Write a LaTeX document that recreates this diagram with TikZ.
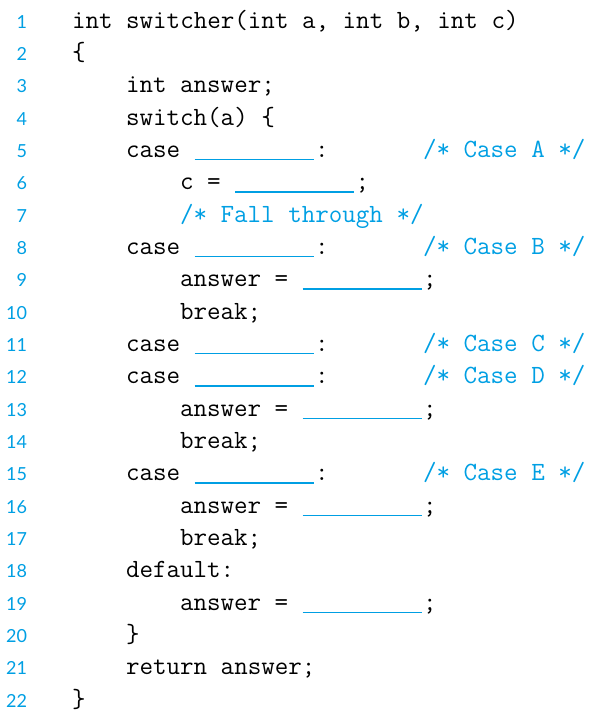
\documentclass[tikz,border=0pt]{standalone}
\usepackage{fontspec}
\setsansfont{Lato}
\definecolor{cblue}{RGB}{0,159,227}
\newcommand\cx[1]{72pt+#1*13.5pt}
\newcommand\cy[1]{692.7pt-(#1-1)*32.33pt}
\tikzset{
  code/.style={inner sep=0pt, outer sep=0pt, anchor=base west, font=\fontsize{26.28}{30}\selectfont\ttfamily, text=black},
  cmt/.style={code, text=cblue},
  num/.style={inner sep=0pt, outer sep=0pt, anchor=base east, font=\fontsize{18}{22}\selectfont\sffamily, text=cblue},
  blankline/.style={draw=cblue, line width=1.4pt}
}
\newcommand\blankat[3]{\draw[blankline] ({\cx{#1}+1pt},{\cy{#2}-2pt}) coordinate (#3a) -- ++(119pt,0) coordinate (#3b);}
\newcommand\caseline[3]{%
  \node[code] (c#1) at ({\cx{4}},{\cy{#1}}) {case};
  \blankat{9}{#1}{b#1}
  \node[code] (k#1) at ({\cx{18}},{\cy{#1}}) {:};
  \node[cmt] (m#1) at ({\cx{26}},{\cy{#1}}) {/* Case #2 */};}
\newcommand\answerline[1]{%
  \node[code] (a#1) at ({\cx{8}},{\cy{#1}}) {answer =};
  \blankat{17}{#1}{b#1}
  \node[code] (s#1) at ({\cx{26}},{\cy{#1}}) {;};}
\begin{document}
\begin{tikzpicture}[x=1pt,y=1pt]
\useasboundingbox (0,0) rectangle (599pt,721pt);
\foreach \n in {1,...,22}
  \node[num] (n\n) at (27pt, {\cy{\n}}) {\n};
\node[code] (l1) at ({\cx{0}},{\cy{1}}) {int switcher(int a, int b, int c)};
\node[code] (l2) at ({\cx{0}},{\cy{2}}) {\{};
\node[code] (l3) at ({\cx{4}},{\cy{3}}) {int answer;};
\node[code] (l4) at ({\cx{4}},{\cy{4}}) {switch(a) \{};
\caseline{5}{A}{}
\node[code] (l6) at ({\cx{8}},{\cy{6}}) {c =};
\blankat{12}{6}{b6}
\node[code] (s6) at ({\cx{21}},{\cy{6}}) {;};
\node[cmt] (l7) at ({\cx{8}},{\cy{7}}) {/* Fall through */};
\caseline{8}{B}{}
\answerline{9}
\node[code] (l10) at ({\cx{8}},{\cy{10}}) {break;};
\caseline{11}{C}{}
\caseline{12}{D}{}
\answerline{13}
\node[code] (l14) at ({\cx{8}},{\cy{14}}) {break;};
\caseline{15}{E}{}
\answerline{16}
\node[code] (l17) at ({\cx{8}},{\cy{17}}) {break;};
\node[code] (l18) at ({\cx{4}},{\cy{18}}) {default:};
\answerline{19}
\node[code] (l20) at ({\cx{4}},{\cy{20}}) {\}};
\node[code] (l21) at ({\cx{4}},{\cy{21}}) {return answer;};
\node[code] (l22) at ({\cx{0}},{\cy{22}}) {\}};
\end{tikzpicture}
\end{document}
